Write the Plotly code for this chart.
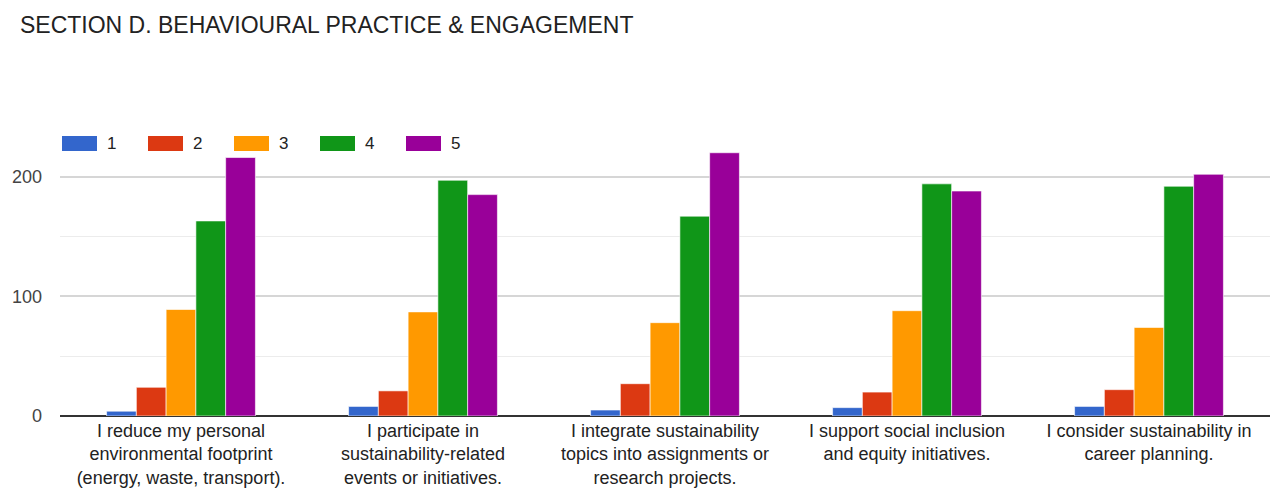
import plotly.graph_objects as go

categories = [
    "I reduce my personal<br>environmental footprint<br>(energy, waste, transport).",
    "I participate in<br>sustainability-related<br>events or initiatives.",
    "I integrate sustainability<br>topics into assignments or<br>research projects.",
    "I support social inclusion<br>and equity initiatives.",
    "I consider sustainability in<br>career planning.",
]
series_names = ["1", "2", "3", "4", "5"]
values_1 = [4, 8, 5, 7, 8]
values_2 = [24, 21, 27, 20, 22]
values_3 = [89, 87, 78, 88, 74]
values_4 = [163, 197, 167, 194, 192]
values_5 = [216, 185, 220, 188, 202]
colors = ["#3366cc", "#dc3912", "#ff9900", "#109618", "#990099"]

all_values = [values_1, values_2, values_3, values_4, values_5]

fig = go.Figure()
for name, vals, col in zip(series_names, all_values, colors):
    fig.add_trace(go.Bar(
        x=categories, y=vals, name=name,
        marker=dict(color=col, line=dict(color="rgba(255,255,255,0.6)", width=1)),
        showlegend=False,
    ))

L, R, T, B = 60, 5, 130, 72
W, H = 1275, 488
pw, ph = W - L - R, H - T - B

def px_x(p):
    return (p - L) / pw

def px_y(p):
    return (H - B - p) / ph

shapes = []
annotations = []
for i, (name, col) in enumerate(zip(series_names, colors)):
    x0 = 62 + i * 86
    shapes.append(dict(type="rect", xref="paper", yref="paper",
                       x0=px_x(x0), x1=px_x(x0 + 35), y0=px_y(151), y1=px_y(136),
                       fillcolor=col, line=dict(width=0)))
    annotations.append(dict(xref="paper", yref="paper", x=px_x(x0 + 43), y=px_y(143.5),
                            text=name, showarrow=False, xanchor="left", yanchor="middle",
                            font=dict(size=17, color="#222222")))

fig.update_layout(
    width=W, height=H,
    margin=dict(l=L, r=R, t=T, b=B),
    paper_bgcolor="white", plot_bgcolor="white",
    font=dict(family="Liberation Sans, Arial, sans-serif", color="#222222"),
    title=dict(text="SECTION D. BEHAVIOURAL PRACTICE &amp; ENGAGEMENT", x=20 / W, xanchor="left",
               y=1 - 25 / H, yanchor="middle", font=dict(size=23, color="#222222")),
    barmode="group", bargap=0.385, bargroupgap=0.0,
    shapes=shapes, annotations=annotations,
    xaxis=dict(showgrid=False, tickfont=dict(size=18, color="#222222"), ticks="",
               showline=False, ticklabelstandoff=2, automargin=False),
    yaxis=dict(range=[0, 239], tickvals=[0, 100, 200], tickfont=dict(size=18, color="#444444"),
               gridcolor="#d6d6d6", gridwidth=1.5, zeroline=True, zerolinecolor="#333333",
               zerolinewidth=1.5, ticks="", ticklabelstandoff=17, automargin=False,
               minor=dict(tick0=0, dtick=50, showgrid=True, gridcolor="#ececec", gridwidth=1)),
)

fig.write_html("out.html")
